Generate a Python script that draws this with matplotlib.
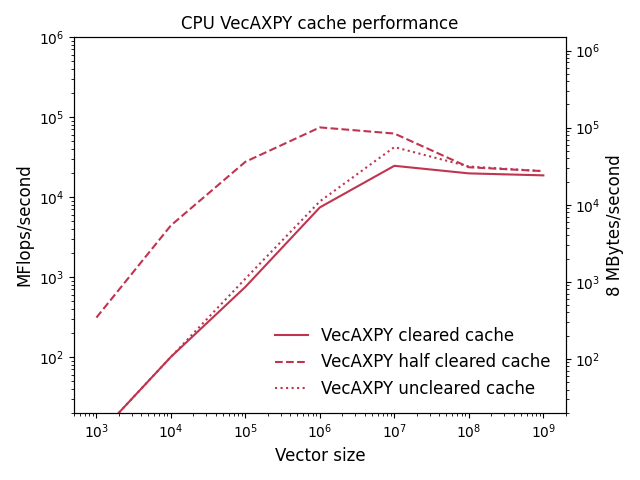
import matplotlib
matplotlib.use("Agg")
import matplotlib.pyplot as plt

# vector sizes and measured rates (MFlops/second)
sizes = [1e3, 1e4, 1e5, 1e6, 1e7, 1e8, 1e9]
cleared = [10, 100, 750, 7400, 24500, 19700, 18600]
half_cleared = [310, 4400, 27500, 74000, 62000, 23500, 21000]
uncleared = [10, 100, 950, 8800, 42000, 24000, 21000]

color = "#c0344f"

fig, ax = plt.subplots(figsize=(6.4, 4.8), dpi=100)
ax.loglog(sizes, cleared, color=color, linestyle="-", label="VecAXPY cleared cache")
ax.loglog(sizes, half_cleared, color=color, linestyle="--", label="VecAXPY half cleared cache")
ax.loglog(sizes, uncleared, color=color, linestyle=":", label="VecAXPY uncleared cache")

ax.set_xlim(500, 2e9)
ax.set_ylim(20, 1e6)
ax.set_xlabel("Vector size", fontsize=12)
ax.set_ylabel("MFlops/second", fontsize=12)
ax.set_title("CPU VecAXPY cache performance", fontsize=12)
ax.legend(loc="lower right", frameon=False, fontsize=12)

ax2 = ax.twinx()
ax2.set_yscale("log")
ax2.set_ylim(20, 1.5e6)
ax2.set_ylabel("8 MBytes/second", fontsize=12)

plt.subplots_adjust(left=0.1156, right=0.884, top=0.923, bottom=0.140)
plt.savefig("out.png")
